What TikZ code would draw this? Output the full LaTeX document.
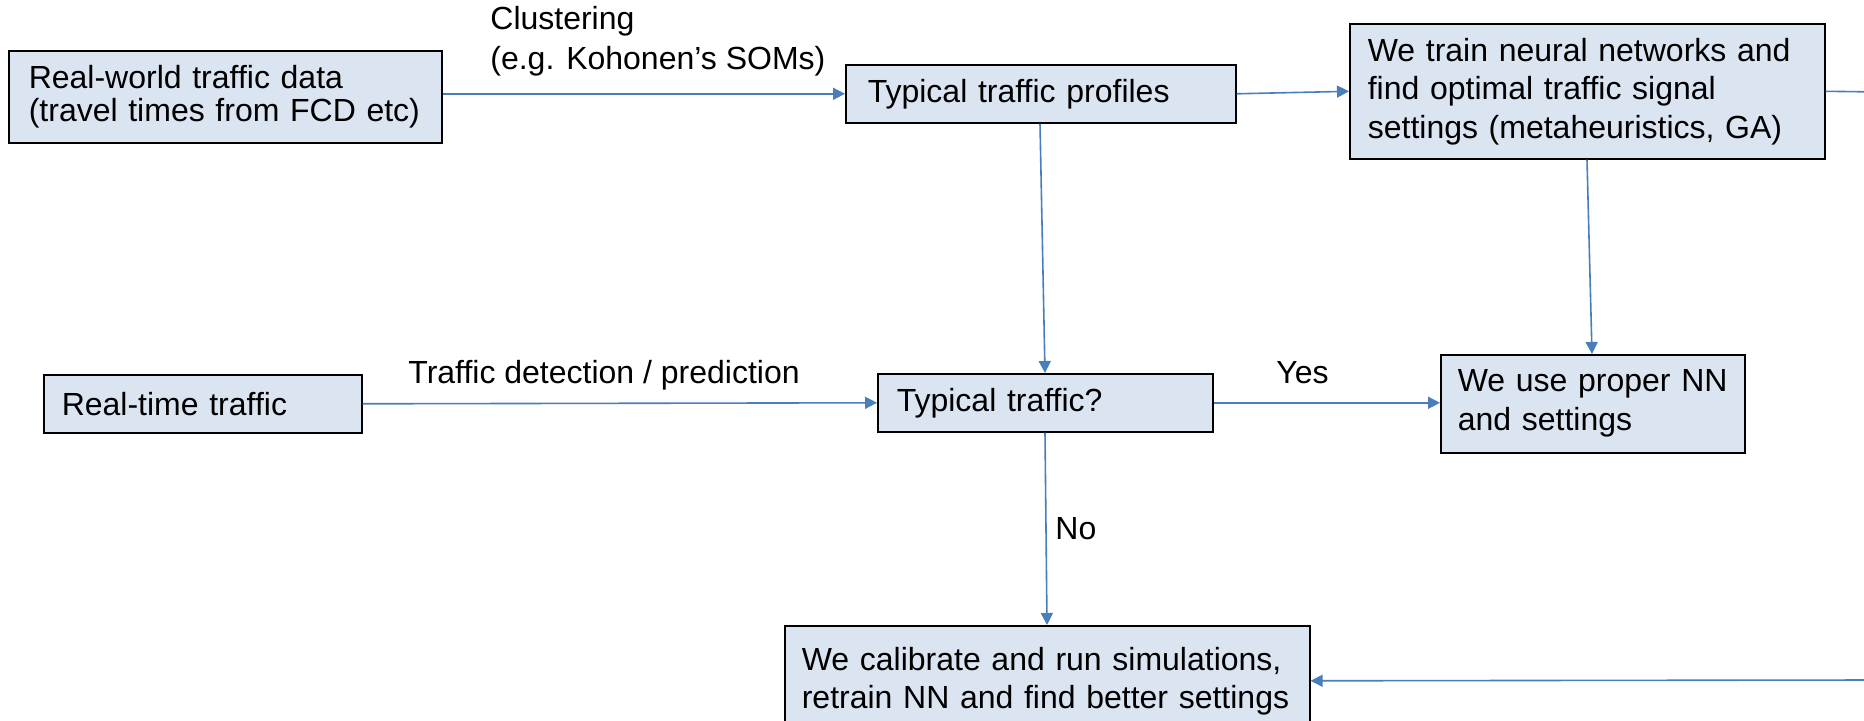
\documentclass[tikz,border=0pt]{standalone}
\usepackage{fontspec}
\setmainfont{Liberation Sans}
\usetikzlibrary{arrows.meta,calc}
\definecolor{boxfill}{RGB}{219,229,241}
\definecolor{flow}{RGB}{74,126,187}
\begin{document}
\begin{tikzpicture}[x=0.5pt,y=-0.5pt,
  stepbox/.style={draw=black,line width=0.8pt,fill=boxfill,anchor=north west,
    align=left,inner ysep=0pt,text=black},
  flowline/.style={draw=flow,line width=0.8pt},
  flowarrow/.style={flowline,-{Triangle[length=6pt,width=6pt]}},
  lbl/.style={inner sep=0pt,anchor=base west,align=left,text=black},
  every node/.append style={font=\fontsize{16}{16.5}\selectfont}]
\clip (0,0) rectangle (1864,721);
\fill[white] (0,0) rectangle (1864,721);

% boxes
\node[stepbox,minimum width=216.5pt,minimum height=46pt,inner xsep=10pt,text width=196.5pt] (b1) at (8,50)
  {Real-world traffic data\\(travel times from FCD etc)};
\node[stepbox,minimum width=195pt,minimum height=29pt,inner xsep=11pt,text width=173pt] (b2) at (845,64)
  {Typical traffic profiles};
\node[stepbox,minimum width=237.5pt,minimum height=67.5pt,inner xsep=9pt,text width=219.5pt,
  font=\fontsize{16}{19.25}\selectfont] (b3) at (1349,23)
  {We train neural networks and\\find optimal traffic signal\\settings (metaheuristics, GA)};
\node[stepbox,minimum width=159pt,minimum height=29pt,inner xsep=9pt,text width=141pt] (b4) at (43,374)
  {Real-time traffic};
\node[stepbox,minimum width=167.5pt,minimum height=29pt,inner xsep=9.5pt,text width=148.5pt] (b5) at (877,373)
  {Typical traffic?};
\node[stepbox,minimum width=152pt,minimum height=49pt,inner xsep=8.5pt,text width=135pt,
  font=\fontsize{16}{19.5}\selectfont] (b6) at (1440,354)
  {We use proper NN\\and settings};
\node[stepbox,minimum width=262.5pt,minimum height=55pt,inner xsep=8.5pt,text width=245.5pt,
  font=\fontsize{16}{19}\selectfont] (b7) at (784,625)
  {We calibrate and run simulations,\\retrain NN and find better settings};

% free ends of the lines that leave on the right
\coordinate (outA) at (1880,92);
\coordinate (outB) at (1880,680);

% connectors
\draw[flowarrow] ([yshift=1.5pt]b1.east) -- (b2.west);
\draw[flowarrow] (b2.east) -- (b3.west);
\draw[flowline] (b3.east) -- (outA);
\draw[flowarrow] ([xshift=97.5pt]b2.south west) -- ([xshift=84pt]b5.north west);
\draw[flowarrow] ([xshift=119pt]b3.south west) -- ([xshift=76pt]b6.north west);
\draw[flowarrow] (b4.east) -- (b5.west);
\draw[flowarrow] (b5.east) -- (b5.east -| b6.west);
\draw[flowarrow] ([xshift=84pt]b5.south west) -- ([xshift=131.5pt]b7.north west);
\draw[flowarrow] (outB) -- (b7.east);

% labels
\node[lbl,font=\fontsize{16}{20}\selectfont] (lclu) at (490,70) {Clustering\\(e.g. Kohonen’s SOMs)};
\node[lbl] (ldet) at (408,384) {Traffic detection / prediction};
\node[lbl] (lyes) at (1276,384) {Yes};
\node[lbl] (lno) at (1055,539) {No};
\end{tikzpicture}
\end{document}
